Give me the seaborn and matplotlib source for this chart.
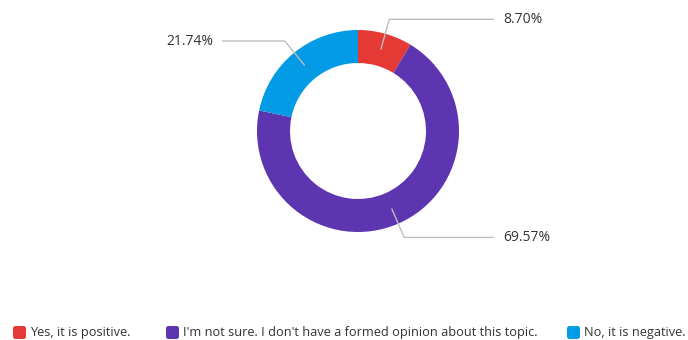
import numpy as np
import matplotlib
matplotlib.use("Agg")
import matplotlib.pyplot as plt
import seaborn as sns
from matplotlib.patches import FancyBboxPatch

categories = [
    "Yes, it is positive.",
    "I'm not sure. I don't have a formed opinion about this topic.",
    "No, it is negative.",
]
shares = [8.70, 69.57, 21.74]
colors = ["#E53935", "#5E35B1", "#039BE5"]

sns.set_theme(style="white")
plt.rcParams["font.family"] = ["Open Sans", "DejaVu Sans"]

W, H = 688, 340
fig = plt.figure(figsize=(W / 100, H / 100), dpi=100)
ax = fig.add_axes([0, 0, 1, 1])

cx, cy = 358, H - 131
r_out, ring = 101, 33

wedges, _ = ax.pie(
    shares, colors=colors, startangle=90, counterclock=False,
    center=(cx, cy), radius=r_out,
    wedgeprops=dict(width=ring, edgecolor="none"),
)
ax.set_xlim(0, W)
ax.set_ylim(0, H)
ax.set_aspect("auto")
ax.axis("off")

# leader lines with percentage labels
for w, v in zip(wedges, shares):
    ang = np.deg2rad((w.theta1 + w.theta2) / 2)
    ux, uy = np.cos(ang), np.sin(ang)
    r_mid = r_out - ring / 2
    x0, y0 = cx + r_mid * ux, cy + r_mid * uy
    x1, y1 = cx + 116 * ux, cy + 116 * uy
    side = 1 if ux >= 0 else -1
    x2 = cx + side * 136
    ax.plot([x0, x1, x2], [y0, y1, y1], color="#bdbdbd", lw=1, solid_capstyle="butt")
    ax.text(cx + side * 145, y1, f"{v:.2f}%", ha="left" if side > 0 else "right",
            va="center", fontsize=10, color="#333333")

# legend entries along the bottom
legend_x = [12, 165, 566]
for x, lab, c in zip(legend_x, categories, colors):
    ax.add_patch(FancyBboxPatch(
        (x + 1, H - 339), 13, 13,
        boxstyle="round,pad=0,rounding_size=2.5", fc=c, ec="none"))
    ax.text(x + 18, H - 332.5, lab, ha="left", va="center",
            fontsize=9.2, color="#333333")

fig.savefig("out.png", dpi=100, facecolor="white")
